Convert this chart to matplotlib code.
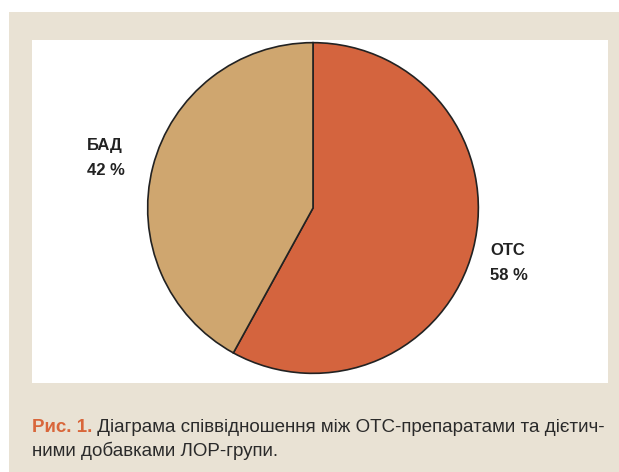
import matplotlib
matplotlib.use("Agg")
import matplotlib.pyplot as plt
from matplotlib.patches import Rectangle

categories = ["ОТС", "БАД"]
values = [58, 42]
labels = ["ОТС\n58 %", "БАД\n42 %"]
colors = ["#d4643e", "#cfa66f"]
caption_bold = "Рис. 1."
caption_rest_1 = " Діаграма співвідношення між ОТС-препаратами та дієтич-"
caption_line_2 = "ними добавками ЛОР-групи."

W, H = 619, 472
fig = plt.figure(figsize=(W / 100, H / 100), dpi=100)
fig.patch.set_facecolor("white")

def px_rect(x0, y0, x1, y1, color):
    fig.patches.append(Rectangle((x0 / W, 1 - y1 / H), (x1 - x0) / W, (y1 - y0) / H,
                                 transform=fig.transFigure, facecolor=color,
                                 edgecolor="none", zorder=-5))

px_rect(9, 12, W, H, "#e9e2d4")
px_rect(32, 40, 608, 383, "white")

cx, cy, r = 313, 208, 167
ax = fig.add_axes([(cx - r) / W, 1 - (cy + r) / H, 2 * r / W, 2 * r / H])
ax.set_zorder(2)
ax.set_facecolor("none")
ax.patch.set_visible(False)
ax.pie(values, colors=colors, startangle=90, counterclock=False,
       wedgeprops=dict(edgecolor="#222222", linewidth=1.2))
ax.set_xlim(-1.01, 1.01)
ax.set_ylim(-1.01, 1.01)
ax.set_aspect("equal")
ax.axis("off")

font = ["Liberation Sans", "DejaVu Sans"]
lab_pos = {"БАД": (87, 158), "ОТС": (490, 263)}
for cat, lab in zip(categories, labels):
    x, y = lab_pos[cat]
    fig.text(x / W, 1 - y / H, lab, ha="left", va="center", fontsize=12,
             fontweight="bold", color="#222222", family=font, linespacing=1.9,
             zorder=3)

cap_font = ["Liberation Sans", "DejaVu Sans"]
fs = 13.5
t1 = fig.text(32 / W, 1 - 427 / H, caption_bold, ha="left", va="center",
              fontsize=fs, color="#d9663a", family=cap_font, fontweight="bold")
fig.canvas.draw()
bb = t1.get_window_extent()
fig.text(bb.x1 / W, 1 - 427 / H, caption_rest_1, ha="left", va="center",
         fontsize=fs, color="#2a2a2a", family=cap_font)
fig.text(32 / W, 1 - 451 / H, caption_line_2, ha="left", va="center",
         fontsize=fs, color="#2a2a2a", family=cap_font)

fig.savefig("out.png", dpi=100)
